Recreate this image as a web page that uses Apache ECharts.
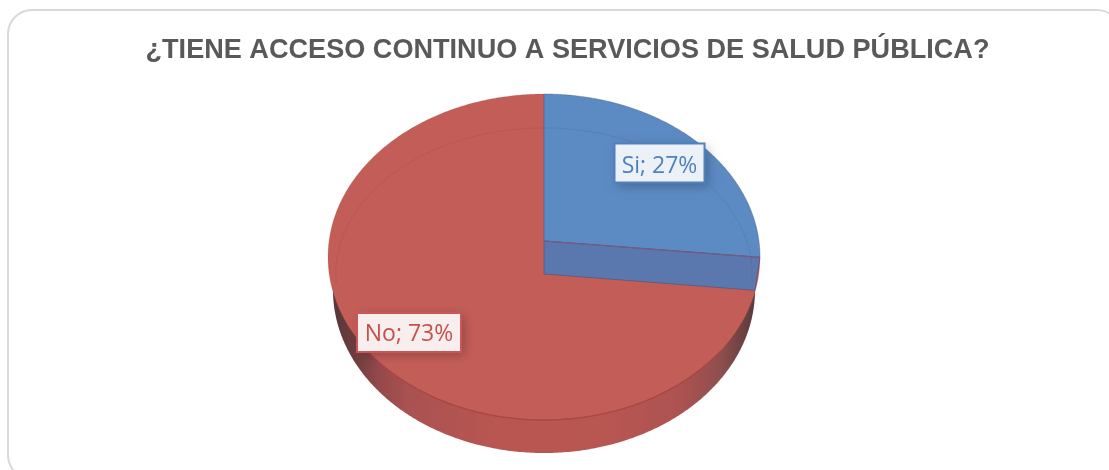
<!DOCTYPE html>
<html><head><meta charset="utf-8">
<style>html,body{margin:0;padding:0;background:#fff}#c{width:1109px;height:470px}</style>
<script src="https://cdn.jsdelivr.net/npm/echarts@6/dist/echarts.min.js"></script>
</head><body><div id="c"></div>
<script>
const titleText = '¿TIENE ACCESO CONTINUO A SERVICIOS DE SALUD PÚBLICA?';
const categories = ['Si', 'No'];
const values = [26.6, 73.4];

// styling and layout, separate from the data
const topColors = ['#5c8ac3', '#c35d58'];
const wallBlue = '#5a78ad';
const textColors = ['#4f81bd', '#c5504d'];
const borderColors = ['#4f81bd', '#c9565a'];
const boxFills = ['#ecf1f8', '#f8eeee'];
const labelCentres = [[659.5, 163], [409, 332.5]];
const labelTextShift = [3, 2];
const labelWidths = [90, 104];
const CX = 544, TOP = 94, HUB = 241, BOTTOM = 420, RX = 216, DEPTH = 33, RX_LOW = 211;

// Perspective projection of the unit disc on to the tilted top face
const c0 = ((HUB - TOP) - (BOTTOM - HUB)) / (BOTTOM - TOP);
const a0 = BOTTOM * (c0 + 1) - HUB;
const A0 = RX * Math.sqrt(1 - c0 * c0);
function project(theta, rxScale, dy) {
  const u = Math.sin(theta), v = -Math.cos(theta), w = c0 * v + 1;
  return [CX + (A0 * u / w) * rxScale, (a0 * v + HUB) / w + dy];
}
function arc(from, to, rxScale, dy) {
  const n = Math.max(2, Math.ceil(Math.abs(to - from) / 0.01)), pts = [];
  for (let i = 0; i <= n; i++) pts.push(project(from + (to - from) * i / n, rxScale, dy));
  return pts;
}
const total = values.reduce((s, v) => s + v, 0);
function sliceAngles(i) {
  const before = values.slice(0, i).reduce((s, v) => s + v, 0);
  return [before / total * 2 * Math.PI, (before + values[i]) / total * 2 * Math.PI];
}

function renderItem(params, api) {
  const i = api.value(0);
  const [a, b] = sliceAngles(i);
  const children = [];
  const hub = [CX, HUB];
  if (i === 0) {
    children.push({type: 'polygon', z2: 1, shape: {points: arc(0, 2 * Math.PI, RX_LOW / RX, DEPTH)},
      style: {fill: new echarts.graphic.LinearGradient(0, 0, 1, 0, [
        {offset: 0, color: '#573639'}, {offset: 0.05, color: '#6e3d3f'}, {offset: 0.11, color: '#96494a'},
        {offset: 0.18, color: '#a95251'}, {offset: 0.4, color: '#ba5652'}, {offset: 0.65, color: '#b85652'},
        {offset: 0.82, color: '#ac5351'}, {offset: 0.92, color: '#8f4e4e'}, {offset: 1, color: '#5a3a3c'}]),
        stroke: null}});
  }
  children.push({type: 'polygon', z2: i === 0 ? 4 : 3, shape: {points: [hub].concat(arc(a, b, 1, 0))},
    style: {fill: topColors[i], stroke: i === 0 ? 'rgba(60,80,120,0.45)' : 'rgba(150,60,58,0.2)', lineWidth: 0.8}});
  if (i === 0) {
    const e = project(b, 1, 0), l = project(b, RX_LOW / RX, DEPTH);
    children.push({type: 'polygon', z2: 5, shape: {points: [hub, e, l, [CX, HUB + DEPTH]]},
      style: {fill: wallBlue, stroke: 'rgba(60,70,120,0.6)', lineWidth: 0.8}});
    children.push({type: 'line', z2: 6, shape: {x1: CX, y1: HUB, x2: e[0], y2: e[1]},
      style: {stroke: '#7a5a80', lineWidth: 1.2}});
    const rim = [];
    for (let t = 0.62; t <= Math.PI - 0.62; t += 0.01)
      rim.push([CX + RX * Math.cos(t), (BOTTOM + TOP) / 2 + (BOTTOM - TOP) / 2 * Math.sin(t)]);
    children.push({type: 'polyline', z2: 7, shape: {points: rim},
      style: {stroke: '#a84744', lineWidth: 1.3, fill: null}});
    const faint = [];
    for (let t = Math.PI * 0.98; t <= Math.PI * 2.02; t += 0.01)
      faint.push([CX + 208 * Math.cos(t), 274 + 146 * Math.sin(t)]);
    children.push({type: 'polyline', z2: 6, shape: {points: faint},
      style: {stroke: 'rgba(70,60,90,0.12)', lineWidth: 1, fill: null}});
  }
  const [lx, ly] = labelCentres[i];
  const text = categories[i] + '; ' + Math.round(values[i] / total * 100) + '%';
  const bw = labelWidths[i], bh = 39;
  const box = {x: lx - bw / 2, y: ly - bh / 2, width: bw, height: bh};
  children.push({type: 'rect', z2: 10, shape: box,
    style: {fill: boxFills[i], shadowBlur: 10, shadowColor: 'rgba(0,0,0,0.25)', shadowOffsetX: 3, shadowOffsetY: 3}});
  children.push({type: 'rect', z2: 11, shape: box,
    style: {fill: null, stroke: borderColors[i], lineWidth: 2}});
  children.push({type: 'text', z2: 12, x: lx, y: ly + labelTextShift[i],
    style: {text, fill: textColors[i], font: '23px "Open Sans", sans-serif', align: 'center', verticalAlign: 'middle'}});
  return {type: 'group', children};
}

const chart = echarts.init(document.getElementById('c'), null, {renderer: 'canvas'});
chart.setOption({
  animation: false,
  backgroundColor: '#ffffff',
  title: {text: titleText, left: 562.5, top: 32, textAlign: 'center',
    textStyle: {fontFamily: '"Liberation Sans"', fontWeight: 'bold', fontSize: 27.1, color: '#595959'}},
  graphic: [{type: 'rect', z: -1, shape: {x: 8, y: 10, width: 1113, height: 469, r: 24},
    style: {fill: '#fff', stroke: '#d9d9d9', lineWidth: 2}}],
  series: [{type: 'custom', coordinateSystem: 'none', clip: false, renderItem,
    data: categories.map((name, i) => ({name, value: [i, values[i]]}))}]
});
</script></body></html>
